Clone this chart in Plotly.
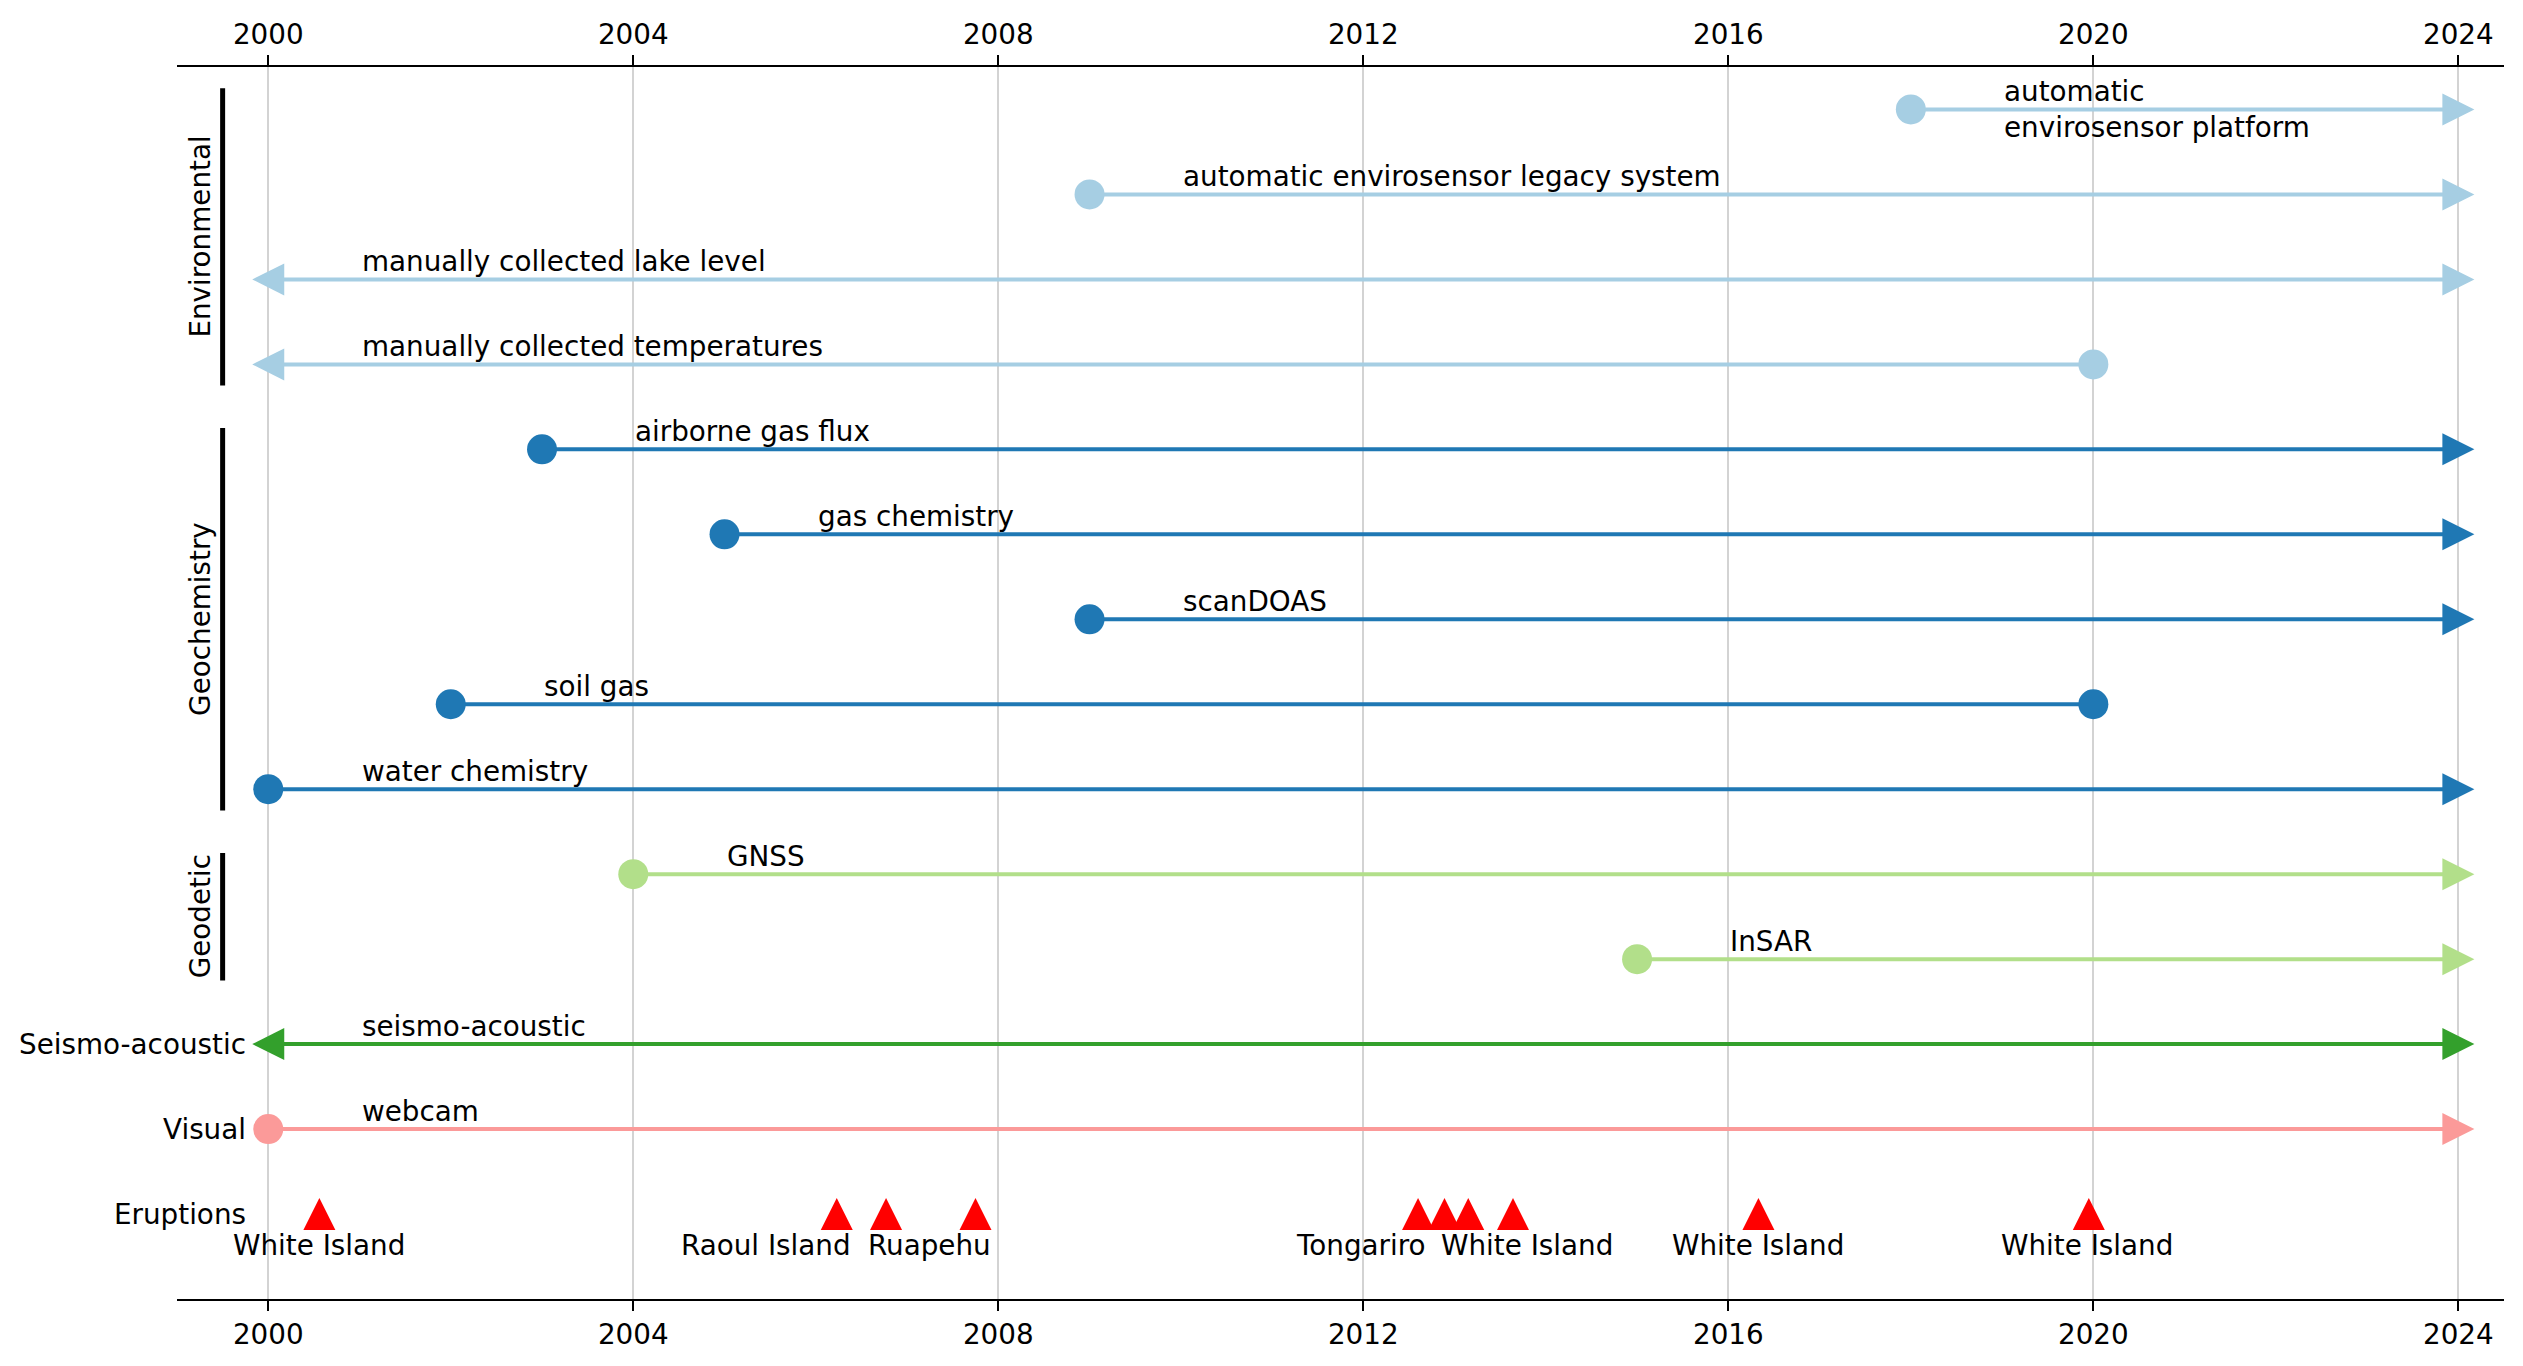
import plotly.graph_objects as go

# ---------------- data ----------------
instruments = [
    "automatic\nenvirosensor platform",
    "automatic envirosensor legacy system",
    "manually collected lake level",
    "manually collected temperatures",
    "airborne gas flux",
    "gas chemistry",
    "scanDOAS",
    "soil gas",
    "water chemistry",
    "GNSS",
    "InSAR",
    "seismo-acoustic",
    "webcam",
]
groups = ["Environmental"] * 4 + ["Geochemistry"] * 5 + ["Geodetic"] * 2 + ["Seismo-acoustic", "Visual"]
start_years = [2018, 2009, None, None, 2003, 2005, 2009, 2002, 2000, 2004, 2015, None, 2000]
end_years = [None, None, None, 2020, None, None, None, 2020, None, None, None, None, None]
group_colors = {
    "Environmental": "#a6cee3",
    "Geochemistry": "#1f78b4",
    "Geodetic": "#b2df8a",
    "Seismo-acoustic": "#33a02c",
    "Visual": "#fb9a99",
}

eruption_dates = [2000.56, 2006.23, 2006.77, 2007.75, 2012.60, 2012.89, 2013.15, 2013.64, 2016.33, 2019.95]
eruption_labels = ["White Island", "Raoul Island", "Ruapehu", "Tongariro",
                   "White Island", "White Island", "White Island"]
eruption_label_x = [2000.56, 2005.45, 2007.25, 2011.98, 2013.79, 2016.33, 2019.93]

tick_years = [2000, 2004, 2008, 2012, 2016, 2020, 2024]
window_start, window_end = 2000, 2024

# ---------------- style ----------------
FONT = "DejaVu Sans"
FS = 27.8
LW = 4
CIRCLE = 30
TRI = 32
W, H = 2523, 1366

n = len(instruments)
rows = [n - i for i in range(n)]  # top row = n, eruptions row = 0

fig = go.Figure()
annotations = []
shapes = []

for name, grp, s, e, r in zip(instruments, groups, start_years, end_years, rows):
    col = group_colors[grp]
    x0 = s if s is not None else window_start
    x1 = e if e is not None else window_end
    fig.add_trace(go.Scatter(x=[x0, x1], y=[r, r], mode="lines",
                             line=dict(color=col, width=LW), hoverinfo="skip", showlegend=False))
    syms, sizes, angles, stand = [], [], [], []
    if s is not None:
        syms.append("circle"); sizes.append(CIRCLE); angles.append(0); stand.append(0)
    else:
        syms.append("arrow-down"); sizes.append(TRI); angles.append(90); stand.append(TRI / 2)
    if e is not None:
        syms.append("circle"); sizes.append(CIRCLE); angles.append(0); stand.append(0)
    else:
        syms.append("arrow-down"); sizes.append(TRI); angles.append(270); stand.append(TRI / 2)
    fig.add_trace(go.Scatter(x=[x0, x1], y=[r, r], mode="markers",
                             marker=dict(symbol=syms, size=sizes, angle=angles, standoff=stand,
                                         color=col, opacity=1, line=dict(width=0)),
                             hoverinfo="skip", showlegend=False))
    label_x = x0 + 1
    multi = "\n" in name
    annotations.append(dict(
        x=label_x, y=r, xref="x", yref="y", text=name.replace("\n", "<br>"),
        showarrow=False, xanchor="left", align="left",
        yanchor="middle" if multi else "bottom",
        yshift=0 if multi else -1,
        font=dict(family=FONT, size=FS, color="black"),
    ))

# eruptions
fig.add_trace(go.Scatter(x=eruption_dates, y=[0] * len(eruption_dates), mode="markers",
                         marker=dict(symbol="arrow-down", size=TRI, angle=180, standoff=TRI / 2,
                                     color="#ff0000", opacity=1, line=dict(width=0)),
                         hoverinfo="skip", showlegend=False))
for lx, lt in zip(eruption_label_x, eruption_labels):
    annotations.append(dict(x=lx, y=0, xref="x", yref="y", text=lt, showarrow=False,
                            xanchor="center", yanchor="middle", yshift=-31,
                            font=dict(family=FONT, size=FS, color="black")))

# group brackets / labels
group_order = []
for g in groups:
    if g not in group_order:
        group_order.append(g)
for g in group_order:
    grows = [r for r, gg in zip(rows, groups) if gg == g]
    if len(grows) > 1:
        y0, y1 = min(grows) - 0.25, max(grows) + 0.25
        shapes.append(dict(type="line", xref="x", yref="y", x0=window_start - 0.5, x1=window_start - 0.5,
                           y0=y0, y1=y1, line=dict(color="black", width=5)))
        annotations.append(dict(x=window_start - 0.5, y=(y0 + y1) / 2, xref="x", yref="y", text=g,
                                textangle=-90, showarrow=False, xanchor="center", yanchor="middle",
                                xshift=-22, font=dict(family=FONT, size=FS, color="black")))
    else:
        annotations.append(dict(x=window_start, y=grows[0], xref="x", yref="y", text=g,
                                showarrow=False, xanchor="right", yanchor="middle", xshift=-20,
                                font=dict(family=FONT, size=FS, color="black")))
annotations.append(dict(x=window_start, y=0, xref="x", yref="y", text="Eruptions",
                        showarrow=False, xanchor="right", yanchor="middle", xshift=-20,
                        font=dict(family=FONT, size=FS, color="black")))

# invisible trace for top axis
fig.add_trace(go.Scatter(x=[window_start], y=[0], xaxis="x2", mode="markers",
                         marker=dict(opacity=0), hoverinfo="skip", showlegend=False))

axis_common = dict(
    range=[1999, 2024.5], tickvals=tick_years, ticktext=[str(t) for t in tick_years],
    showline=True, linecolor="black", linewidth=2.2, ticks="outside", ticklen=10,
    tickwidth=2.2, tickcolor="black", zeroline=False,
    tickfont=dict(family=FONT, size=FS, color="black"),
)
fig.update_layout(
    width=W, height=H,
    margin=dict(l=177, r=19, t=67, b=67),
    plot_bgcolor="white", paper_bgcolor="white",
    xaxis=dict(**axis_common, side="bottom", showgrid=True, gridcolor="#d3d3d3", gridwidth=2),
    xaxis2=dict(**axis_common, side="top", overlaying="x", matches="x", showgrid=False),
    yaxis=dict(range=[-1, 13.5], showgrid=False, showline=False, showticklabels=False,
               ticks="", zeroline=False),
    shapes=shapes, annotations=annotations,
    hovermode=False, showlegend=False,
)

fig.write_html("out.html", config={"displayModeBar": False},
               post_script="document.body.style.margin='0';document.body.style.overflow='hidden';")
